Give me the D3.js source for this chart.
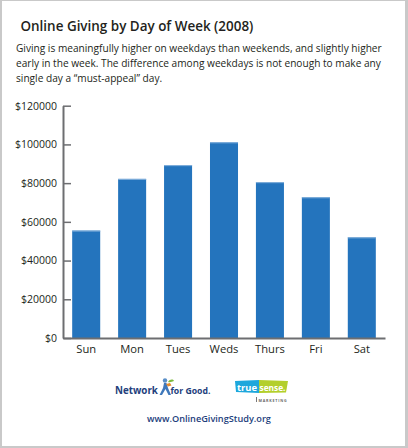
<!DOCTYPE html>
<html>
<head>
<meta charset="utf-8">
<script src="https://cdn.jsdelivr.net/npm/d3@7"></script>
<style>
  html, body { margin: 0; padding: 0; background: #fff; }
  svg { display: block; }
</style>
</head>
<body>
<main></main>
<script>
// values
const days = ["Sun", "Mon", "Tues", "Weds", "Thurs", "Fri", "Sat"]
const giving = [55500, 82200, 89300, 101100, 80500, 72700, 52000]
const yTicks = [0, 20000, 40000, 60000, 80000, 100000, 120000]

const title = "Online Giving by Day of Week (2008)"
const subtitle = [
    "Giving is meaningfully higher on weekdays than weekends, and slightly higher",
    "early in the week. The difference among weekdays is not enough to make any",
    "single day a \u201cmust-appeal\u201d day."
]
const siteUrl = "www.OnlineGivingStudy.org"

const svgWidth = 408
const svgHeight = 448
const font = "'Open Sans', 'DejaVu Sans', sans-serif"
const logoFont = "'Liberation Sans Narrow', 'Open Sans', sans-serif"
const axisColor = "#6d6e71"
const textColor = "#231f20"
const barColor = "#2474bd"
const navy = "#23407c"

const plotLeft = 63
const plotRight = 385
const plotTop = 105.7
const plotBottom = 338

let svg = d3.select("main")
    .append("svg")
    .attr("width", svgWidth)
    .attr("height", svgHeight)
    .style("font-family", font)

// shrink a text's font size until it fits a target width
function fit(sel, w) {
    sel.each(function () {
        let t = d3.select(this)
        let len = this.getComputedTextLength()
        if (len > w) {
            t.attr("font-size", +t.attr("font-size") * w / len)
        }
    })
}

//frame
svg.append("rect")
    .attr("x", 0).attr("y", 0)
    .attr("width", svgWidth).attr("height", svgHeight)
    .attr("fill", "#c9c9c9")
svg.append("rect")
    .attr("x", 2).attr("y", 1)
    .attr("width", 403).attr("height", 445)
    .attr("fill", "#fff")

//title and note
svg.append("text")
    .attr("x", 20.5).attr("y", 30.5)
    .attr("font-size", 15.5)
    .attr("font-weight", 600)
    .attr("fill", textColor)
    .text(title)
    .call(fit, 233)

let note = svg.append("g")
note.selectAll("text")
    .data(subtitle)
    .join("text")
    .attr("x", 16)
    .attr("y", (d, i) => 51.5 + i * 15)
    .attr("font-size", 11.6)
    .attr("fill", textColor)
    .text(d => d)
    .call(fit, 366)
// keep the lines at one size, like the reference
let noteSize = d3.min(note.selectAll("text").nodes(), n => +n.getAttribute("font-size"))
note.selectAll("text").attr("font-size", noteSize)

//scales
let y = d3.scaleLinear()
    .domain([0, 120000])
    .range([plotBottom, plotTop])

let x = d3.scaleBand()
    .domain(days)
    .range([plotLeft, plotRight])
    .paddingInner(0.39)
    .paddingOuter(0.2)

//bars
let bars = svg.append("g")
bars.selectAll("rect.bar")
    .data(giving)
    .join("rect")
    .attr("class", "bar")
    .attr("x", (d, i) => x(days[i]))
    .attr("y", d => y(d))
    .attr("width", x.bandwidth())
    .attr("height", d => plotBottom - y(d))
    .attr("fill", barColor)
bars.selectAll("rect.edge")
    .data(giving)
    .join("rect")
    .attr("class", "edge")
    .attr("x", (d, i) => x(days[i]))
    .attr("y", d => y(d))
    .attr("width", x.bandwidth())
    .attr("height", 1)
    .attr("fill", "#86b2dc")

//y axis
let yAxis = svg.append("g")
    .attr("transform", `translate(${plotLeft}, 0)`)
    .call(d3.axisLeft(y)
        .tickValues(yTicks)
        .tickSize(-8)
        .tickSizeOuter(0)
        .tickPadding(6)
        .tickFormat(d => "$" + d))

yAxis.select(".domain")
    .attr("stroke", axisColor)
    .attr("stroke-width", 2)
yAxis.selectAll("line")
    .attr("stroke", axisColor)
    .attr("stroke-width", 1.5)
yAxis.selectAll("text")
    .attr("font-family", font)
    .attr("font-size", 10.5)
    .attr("fill", textColor)

//x axis
let xAxis = svg.append("g")
    .attr("transform", `translate(0, ${plotBottom})`)
    .call(d3.axisBottom(x).tickSize(0).tickPadding(7))

xAxis.select(".domain")
    .attr("stroke", axisColor)
    .attr("stroke-width", 2)
xAxis.selectAll("text")
    .attr("font-family", font)
    .attr("font-size", 11.2)
    .attr("fill", textColor)

//footer: Network for Good mark
let nfg = svg.append("g").style("font-family", logoFont)
nfg.append("text")
    .attr("x", 115).attr("y", 394)
    .attr("font-size", 13)
    .attr("font-weight", 700)
    .attr("fill", navy)
    .text("Network")
    .call(fit, 43)
// little figure
nfg.append("circle")
    .attr("cx", 165).attr("cy", 380.5).attr("r", 2.2)
    .attr("fill", "#5a8fc8")
nfg.append("path")
    .attr("d", "M164,383 L166.5,383 L168,388 L171,395 L168.5,395 L165.5,389 L162,395 L159.5,395 L163,388 Z")
    .attr("fill", "#3f78bb")
nfg.append("path")
    .attr("d", "M166,384 L170,383 L171.5,385.5 L168,386.5 Z")
    .attr("fill", "#e58a2b")
nfg.append("path")
    .attr("d", "M168,382 C170,379 173,379 174,381 C172,382 170,382.5 168,382 Z")
    .attr("fill", "#7dba3d")
nfg.append("text")
    .attr("x", 170.5).attr("y", 394)
    .attr("font-size", 13)
    .attr("font-weight", 700)
    .attr("fill", navy)
    .text("for Good.")
    .call(fit, 40)

//footer: True Sense mark
let ts = svg.append("g").style("font-family", logoFont)
ts.append("path")
    .attr("d", "M235,381 L259,380 L259,393 L236,392 Z")
    .attr("fill", "#1ea7dc")
ts.append("path")
    .attr("d", "M259,380 L288,381 L286,392.5 L259,393 Z")
    .attr("fill", "#b3cf2c")
ts.append("text")
    .attr("x", 247).attr("y", 391)
    .attr("text-anchor", "middle")
    .attr("font-size", 12.5)
    .attr("font-weight", 700)
    .attr("fill", "#fff")
    .text("true")
    .call(fit, 20)
ts.append("text")
    .attr("x", 272.5).attr("y", 391)
    .attr("text-anchor", "middle")
    .attr("font-size", 12.5)
    .attr("font-weight", 700)
    .attr("fill", "#fff")
    .text("sense.")
    .call(fit, 26)
ts.append("line")
    .attr("x1", 256.5).attr("x2", 256.5)
    .attr("y1", 397).attr("y2", 402)
    .attr("stroke", "#555").attr("stroke-width", 0.8)
ts.append("text")
    .attr("x", 258.5).attr("y", 401.5)
    .attr("font-size", 4.2)
    .attr("font-weight", 700)
    .attr("letter-spacing", 0.8)
    .attr("fill", "#666")
    .text("MARKETING")
    .call(fit, 28)

//site address
svg.append("text")
    .attr("x", 209).attr("y", 422)
    .attr("text-anchor", "middle")
    .attr("font-size", 10.2)
    .attr("font-weight", 600)
    .attr("fill", navy)
    .text(siteUrl)
    .call(fit, 124)
</script>
</body>
</html>
